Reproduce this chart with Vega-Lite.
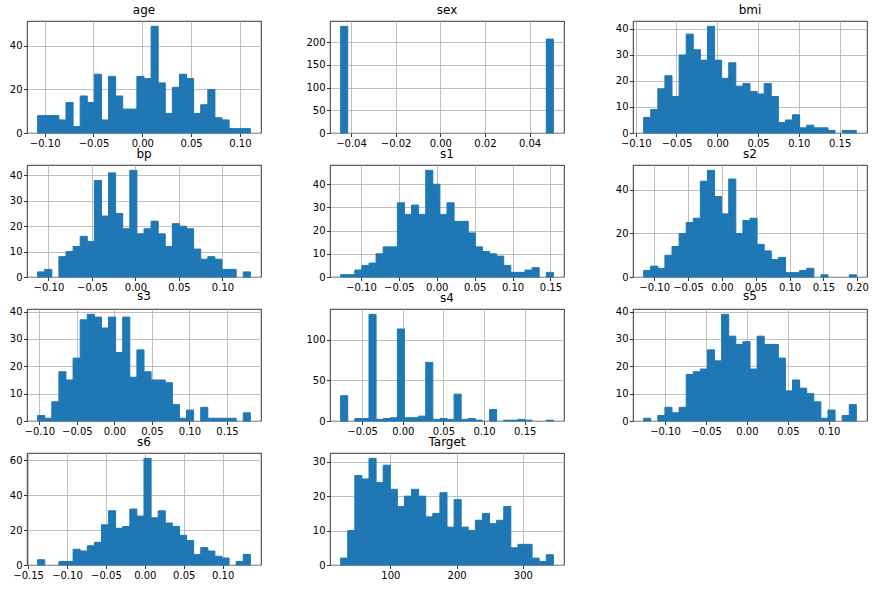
{
"$schema": "https://vega.github.io/schema/vega-lite/v6.json",
"background": "white",
"padding": {"left": 8, "top": 3, "right": 5, "bottom": 5},
"columns": 3,
"spacing": {"row": 32, "column": 69},
"bounds": "flush",
"config": {
  "view": {"stroke": "#000000", "strokeWidth": 0.8},
  "font": "DejaVu Sans",
  "axis": {"domain": false, "grid": true, "gridColor": "#b0b0b0", "gridWidth": 0.8, "gridOpacity": 1, "ticks": true, "tickSize": 3.5, "tickWidth": 0.8, "tickColor": "#000000", "labelFont": "DejaVu Sans", "labelFontSize": 10, "labelColor": "#000000", "labelPadding": 1.5, "labelOverlap": false, "labelFlush": false, "labelBound": false, "title": null, "zindex": 1},
  "title": {"font": "DejaVu Sans", "fontSize": 12, "fontWeight": "normal", "color": "#000000", "anchor": "middle", "offset": 4, "baseline": "alphabetic"},
  "bar": {"color": "#1f77b4", "fill": "#1f77b4", "fillOpacity": 1, "stroke": "#1f77b4", "strokeWidth": 1, "strokeOpacity": 1, "opacity": 1}
},
"datasets": {
  "age": [
    {"x0":-0.10723,"x1":-0.09996,"n":8},{"x0":-0.09996,"x1":-0.09270,"n":8},{"x0":-0.09270,"x1":-0.08543,"n":8},{"x0":-0.08543,"x1":-0.07817,"n":6},{"x0":-0.07817,"x1":-0.07090,"n":14},{"x0":-0.07090,"x1":-0.06364,"n":3},{"x0":-0.06364,"x1":-0.05637,"n":17},{"x0":-0.05637,"x1":-0.04911,"n":14},{"x0":-0.04911,"x1":-0.04184,"n":27},{"x0":-0.04184,"x1":-0.03458,"n":6},{"x0":-0.03458,"x1":-0.02731,"n":26},{"x0":-0.02731,"x1":-0.02005,"n":17},{"x0":-0.02005,"x1":-0.01278,"n":11},{"x0":-0.01278,"x1":-0.00552,"n":11},{"x0":-0.00552,"x1":0.00175,"n":26},{"x0":0.00175,"x1":0.00902,"n":25},{"x0":0.00902,"x1":0.01628,"n":49},{"x0":0.01628,"x1":0.02355,"n":23},{"x0":0.02355,"x1":0.03081,"n":9},{"x0":0.03081,"x1":0.03808,"n":21},{"x0":0.03808,"x1":0.04534,"n":27},{"x0":0.04534,"x1":0.05261,"n":25},{"x0":0.05261,"x1":0.05987,"n":9},{"x0":0.05987,"x1":0.06714,"n":13},{"x0":0.06714,"x1":0.07440,"n":20},{"x0":0.07440,"x1":0.08167,"n":7},{"x0":0.08167,"x1":0.08893,"n":6},{"x0":0.08893,"x1":0.09620,"n":2},{"x0":0.09620,"x1":0.10346,"n":2},{"x0":0.10346,"x1":0.11073,"n":2}
  ],
  "sex": [
    {"x0":-0.04464,"x1":-0.04147,"n":235},{"x0":0.04750,"x1":0.05068,"n":207}
  ],
  "bmi": [
    {"x0":-0.09028,"x1":-0.08158,"n":6},{"x0":-0.08158,"x1":-0.07289,"n":9},{"x0":-0.07289,"x1":-0.06419,"n":17},{"x0":-0.06419,"x1":-0.05550,"n":22},{"x0":-0.05550,"x1":-0.04680,"n":14},{"x0":-0.04680,"x1":-0.03811,"n":30},{"x0":-0.03811,"x1":-0.02941,"n":38},{"x0":-0.02941,"x1":-0.02072,"n":32},{"x0":-0.02072,"x1":-0.01203,"n":28},{"x0":-0.01203,"x1":-0.00333,"n":41},{"x0":-0.00333,"x1":0.00536,"n":28},{"x0":0.00536,"x1":0.01406,"n":21},{"x0":0.01406,"x1":0.02275,"n":27},{"x0":0.02275,"x1":0.03145,"n":18},{"x0":0.03145,"x1":0.04014,"n":19},{"x0":0.04014,"x1":0.04883,"n":16},{"x0":0.04883,"x1":0.05753,"n":15},{"x0":0.05753,"x1":0.06622,"n":19},{"x0":0.06622,"x1":0.07492,"n":14},{"x0":0.07492,"x1":0.08361,"n":4},{"x0":0.08361,"x1":0.09231,"n":5},{"x0":0.09231,"x1":0.10100,"n":7},{"x0":0.10100,"x1":0.10969,"n":2},{"x0":0.10969,"x1":0.11839,"n":3},{"x0":0.11839,"x1":0.12708,"n":2},{"x0":0.12708,"x1":0.13578,"n":2},{"x0":0.13578,"x1":0.14447,"n":1},{"x0":0.14447,"x1":0.15317,"n":0},{"x0":0.15317,"x1":0.16186,"n":1},{"x0":0.16186,"x1":0.17055,"n":1}
  ],
  "bp": [
    {"x0":-0.11240,"x1":-0.10425,"n":2},{"x0":-0.10425,"x1":-0.09610,"n":3},{"x0":-0.09610,"x1":-0.08795,"n":0},{"x0":-0.08795,"x1":-0.07981,"n":8},{"x0":-0.07981,"x1":-0.07166,"n":10},{"x0":-0.07166,"x1":-0.06351,"n":12},{"x0":-0.06351,"x1":-0.05536,"n":16},{"x0":-0.05536,"x1":-0.04721,"n":14},{"x0":-0.04721,"x1":-0.03907,"n":38},{"x0":-0.03907,"x1":-0.03092,"n":24},{"x0":-0.03092,"x1":-0.02277,"n":41},{"x0":-0.02277,"x1":-0.01462,"n":25},{"x0":-0.01462,"x1":-0.00647,"n":19},{"x0":-0.00647,"x1":0.00167,"n":42},{"x0":0.00167,"x1":0.00982,"n":17},{"x0":0.00982,"x1":0.01797,"n":19},{"x0":0.01797,"x1":0.02612,"n":22},{"x0":0.02612,"x1":0.03427,"n":17},{"x0":0.03427,"x1":0.04241,"n":12},{"x0":0.04241,"x1":0.05056,"n":21},{"x0":0.05056,"x1":0.05871,"n":20},{"x0":0.05871,"x1":0.06686,"n":19},{"x0":0.06686,"x1":0.07501,"n":11},{"x0":0.07501,"x1":0.08316,"n":7},{"x0":0.08316,"x1":0.09130,"n":8},{"x0":0.09130,"x1":0.09945,"n":7},{"x0":0.09945,"x1":0.10760,"n":3},{"x0":0.10760,"x1":0.11575,"n":3},{"x0":0.11575,"x1":0.12390,"n":0},{"x0":0.12390,"x1":0.13204,"n":2}
  ],
  "s1": [
    {"x0":-0.12678,"x1":-0.11742,"n":1},{"x0":-0.11742,"x1":-0.10807,"n":1},{"x0":-0.10807,"x1":-0.09871,"n":3},{"x0":-0.09871,"x1":-0.08936,"n":5},{"x0":-0.08936,"x1":-0.08000,"n":6},{"x0":-0.08000,"x1":-0.07064,"n":10},{"x0":-0.07064,"x1":-0.06129,"n":13},{"x0":-0.06129,"x1":-0.05193,"n":13},{"x0":-0.05193,"x1":-0.04257,"n":32},{"x0":-0.04257,"x1":-0.03322,"n":27},{"x0":-0.03322,"x1":-0.02386,"n":31},{"x0":-0.02386,"x1":-0.01450,"n":27},{"x0":-0.01450,"x1":-0.00515,"n":46},{"x0":-0.00515,"x1":0.00421,"n":40},{"x0":0.00421,"x1":0.01357,"n":27},{"x0":0.01357,"x1":0.02292,"n":32},{"x0":0.02292,"x1":0.03228,"n":24},{"x0":0.03228,"x1":0.04164,"n":24},{"x0":0.04164,"x1":0.05099,"n":19},{"x0":0.05099,"x1":0.06035,"n":13},{"x0":0.06035,"x1":0.06971,"n":11},{"x0":0.06971,"x1":0.07906,"n":10},{"x0":0.07906,"x1":0.08842,"n":9},{"x0":0.08842,"x1":0.09778,"n":5},{"x0":0.09778,"x1":0.10713,"n":2},{"x0":0.10713,"x1":0.11649,"n":2},{"x0":0.11649,"x1":0.12584,"n":3},{"x0":0.12584,"x1":0.13520,"n":4},{"x0":0.13520,"x1":0.14456,"n":0},{"x0":0.14456,"x1":0.15391,"n":2}
  ],
  "s2": [
    {"x0":-0.11561,"x1":-0.10513,"n":3},{"x0":-0.10513,"x1":-0.09465,"n":5},{"x0":-0.09465,"x1":-0.08417,"n":4},{"x0":-0.08417,"x1":-0.07369,"n":10},{"x0":-0.07369,"x1":-0.06321,"n":14},{"x0":-0.06321,"x1":-0.05273,"n":20},{"x0":-0.05273,"x1":-0.04225,"n":25},{"x0":-0.04225,"x1":-0.03177,"n":27},{"x0":-0.03177,"x1":-0.02129,"n":44},{"x0":-0.02129,"x1":-0.01081,"n":49},{"x0":-0.01081,"x1":-0.00033,"n":37},{"x0":-0.00033,"x1":0.01015,"n":29},{"x0":0.01015,"x1":0.02063,"n":45},{"x0":0.02063,"x1":0.03111,"n":20},{"x0":0.03111,"x1":0.04159,"n":26},{"x0":0.04159,"x1":0.05207,"n":27},{"x0":0.05207,"x1":0.06255,"n":15},{"x0":0.06255,"x1":0.07303,"n":12},{"x0":0.07303,"x1":0.08351,"n":8},{"x0":0.08351,"x1":0.09399,"n":9},{"x0":0.09399,"x1":0.10447,"n":2},{"x0":0.10447,"x1":0.11495,"n":2},{"x0":0.11495,"x1":0.12543,"n":3},{"x0":0.12543,"x1":0.13591,"n":4},{"x0":0.13591,"x1":0.14639,"n":0},{"x0":0.14639,"x1":0.15687,"n":1},{"x0":0.15687,"x1":0.16735,"n":0},{"x0":0.16735,"x1":0.17783,"n":0},{"x0":0.17783,"x1":0.18831,"n":0},{"x0":0.18831,"x1":0.19879,"n":1}
  ],
  "s3": [
    {"x0":-0.10231,"x1":-0.09286,"n":2},{"x0":-0.09286,"x1":-0.08341,"n":1},{"x0":-0.08341,"x1":-0.07396,"n":7},{"x0":-0.07396,"x1":-0.06451,"n":18},{"x0":-0.06451,"x1":-0.05506,"n":15},{"x0":-0.05506,"x1":-0.04561,"n":23},{"x0":-0.04561,"x1":-0.03616,"n":37},{"x0":-0.03616,"x1":-0.02671,"n":39},{"x0":-0.02671,"x1":-0.01726,"n":38},{"x0":-0.01726,"x1":-0.00781,"n":34},{"x0":-0.00781,"x1":0.00164,"n":38},{"x0":0.00164,"x1":0.01109,"n":25},{"x0":0.01109,"x1":0.02054,"n":38},{"x0":0.02054,"x1":0.02999,"n":16},{"x0":0.02999,"x1":0.03944,"n":26},{"x0":0.03944,"x1":0.04889,"n":18},{"x0":0.04889,"x1":0.05833,"n":15},{"x0":0.05833,"x1":0.06778,"n":15},{"x0":0.06778,"x1":0.07723,"n":14},{"x0":0.07723,"x1":0.08668,"n":6},{"x0":0.08668,"x1":0.09613,"n":1},{"x0":0.09613,"x1":0.10558,"n":4},{"x0":0.10558,"x1":0.11503,"n":0},{"x0":0.11503,"x1":0.12448,"n":5},{"x0":0.12448,"x1":0.13393,"n":1},{"x0":0.13393,"x1":0.14338,"n":1},{"x0":0.14338,"x1":0.15283,"n":1},{"x0":0.15283,"x1":0.16228,"n":1},{"x0":0.16228,"x1":0.17173,"n":0},{"x0":0.17173,"x1":0.18118,"n":3}
  ],
  "s4": [
    {"x0":-0.07640,"x1":-0.06767,"n":31},{"x0":-0.06767,"x1":-0.05895,"n":0},{"x0":-0.05895,"x1":-0.05023,"n":3},{"x0":-0.05023,"x1":-0.04151,"n":3},{"x0":-0.04151,"x1":-0.03279,"n":131},{"x0":-0.03279,"x1":-0.02407,"n":2},{"x0":-0.02407,"x1":-0.01535,"n":3},{"x0":-0.01535,"x1":-0.00663,"n":4},{"x0":-0.00663,"x1":0.00209,"n":113},{"x0":0.00209,"x1":0.01081,"n":4},{"x0":0.01081,"x1":0.01954,"n":4},{"x0":0.01954,"x1":0.02826,"n":6},{"x0":0.02826,"x1":0.03698,"n":72},{"x0":0.03698,"x1":0.04570,"n":2},{"x0":0.04570,"x1":0.05442,"n":3},{"x0":0.05442,"x1":0.06314,"n":2},{"x0":0.06314,"x1":0.07186,"n":33},{"x0":0.07186,"x1":0.08058,"n":2},{"x0":0.08058,"x1":0.08930,"n":3},{"x0":0.08930,"x1":0.09802,"n":1},{"x0":0.09802,"x1":0.10675,"n":0},{"x0":0.10675,"x1":0.11547,"n":14},{"x0":0.11547,"x1":0.12419,"n":0},{"x0":0.12419,"x1":0.13291,"n":1},{"x0":0.13291,"x1":0.14163,"n":1},{"x0":0.14163,"x1":0.15035,"n":2},{"x0":0.15035,"x1":0.15907,"n":1},{"x0":0.15907,"x1":0.16779,"n":0},{"x0":0.16779,"x1":0.17651,"n":0},{"x0":0.17651,"x1":0.18523,"n":1}
  ],
  "s5": [
    {"x0":-0.12610,"x1":-0.11744,"n":1},{"x0":-0.11744,"x1":-0.10878,"n":0},{"x0":-0.10878,"x1":-0.10013,"n":2},{"x0":-0.10013,"x1":-0.09147,"n":5},{"x0":-0.09147,"x1":-0.08281,"n":3},{"x0":-0.08281,"x1":-0.07416,"n":5},{"x0":-0.07416,"x1":-0.06550,"n":17},{"x0":-0.06550,"x1":-0.05685,"n":18},{"x0":-0.05685,"x1":-0.04819,"n":19},{"x0":-0.04819,"x1":-0.03953,"n":26},{"x0":-0.03953,"x1":-0.03088,"n":22},{"x0":-0.03088,"x1":-0.02222,"n":39},{"x0":-0.02222,"x1":-0.01356,"n":31},{"x0":-0.01356,"x1":-0.00491,"n":28},{"x0":-0.00491,"x1":0.00375,"n":29},{"x0":0.00375,"x1":0.01241,"n":19},{"x0":0.01241,"x1":0.02106,"n":31},{"x0":0.02106,"x1":0.02972,"n":28},{"x0":0.02972,"x1":0.03838,"n":28},{"x0":0.03838,"x1":0.04703,"n":23},{"x0":0.04703,"x1":0.05569,"n":11},{"x0":0.05569,"x1":0.06435,"n":15},{"x0":0.06435,"x1":0.07300,"n":12},{"x0":0.07300,"x1":0.08166,"n":10},{"x0":0.08166,"x1":0.09031,"n":7},{"x0":0.09031,"x1":0.09897,"n":1},{"x0":0.09897,"x1":0.10763,"n":4},{"x0":0.10763,"x1":0.11628,"n":0},{"x0":0.11628,"x1":0.12494,"n":2},{"x0":0.12494,"x1":0.13360,"n":6}
  ],
  "s6": [
    {"x0":-0.13777,"x1":-0.12865,"n":3},{"x0":-0.12865,"x1":-0.11954,"n":0},{"x0":-0.11954,"x1":-0.11043,"n":0},{"x0":-0.11043,"x1":-0.10132,"n":2},{"x0":-0.10132,"x1":-0.09220,"n":2},{"x0":-0.09220,"x1":-0.08309,"n":9},{"x0":-0.08309,"x1":-0.07398,"n":8},{"x0":-0.07398,"x1":-0.06487,"n":11},{"x0":-0.06487,"x1":-0.05575,"n":13},{"x0":-0.05575,"x1":-0.04664,"n":23},{"x0":-0.04664,"x1":-0.03753,"n":31},{"x0":-0.03753,"x1":-0.02842,"n":21},{"x0":-0.02842,"x1":-0.01930,"n":22},{"x0":-0.01930,"x1":-0.01019,"n":32},{"x0":-0.01019,"x1":-0.00108,"n":28},{"x0":-0.00108,"x1":0.00804,"n":61},{"x0":0.00804,"x1":0.01715,"n":27},{"x0":0.01715,"x1":0.02626,"n":31},{"x0":0.02626,"x1":0.03537,"n":24},{"x0":0.03537,"x1":0.04449,"n":22},{"x0":0.04449,"x1":0.05360,"n":17},{"x0":0.05360,"x1":0.06271,"n":14},{"x0":0.06271,"x1":0.07182,"n":6},{"x0":0.07182,"x1":0.08094,"n":10},{"x0":0.08094,"x1":0.09005,"n":8},{"x0":0.09005,"x1":0.09916,"n":5},{"x0":0.09916,"x1":0.10827,"n":4},{"x0":0.10827,"x1":0.11739,"n":0},{"x0":0.11739,"x1":0.12650,"n":2},{"x0":0.12650,"x1":0.13561,"n":6}
  ],
  "Target": [
    {"x0":25,"x1":35.7,"n":2},{"x0":35.7,"x1":46.4,"n":10},{"x0":46.4,"x1":57.1,"n":26},{"x0":57.1,"x1":67.8,"n":25},{"x0":67.8,"x1":78.5,"n":31},{"x0":78.5,"x1":89.2,"n":24},{"x0":89.2,"x1":99.9,"n":29},{"x0":99.9,"x1":110.6,"n":22},{"x0":110.6,"x1":121.3,"n":17},{"x0":121.3,"x1":132,"n":20},{"x0":132,"x1":142.7,"n":22},{"x0":142.7,"x1":153.4,"n":20},{"x0":153.4,"x1":164.1,"n":14},{"x0":164.1,"x1":174.8,"n":15},{"x0":174.8,"x1":185.5,"n":21},{"x0":185.5,"x1":196.2,"n":11},{"x0":196.2,"x1":206.9,"n":19},{"x0":206.9,"x1":217.6,"n":11},{"x0":217.6,"x1":228.3,"n":10},{"x0":228.3,"x1":239,"n":13},{"x0":239,"x1":249.7,"n":15},{"x0":249.7,"x1":260.4,"n":12},{"x0":260.4,"x1":271.1,"n":13},{"x0":271.1,"x1":281.8,"n":17},{"x0":281.8,"x1":292.5,"n":5},{"x0":292.5,"x1":303.2,"n":6},{"x0":303.2,"x1":313.9,"n":6},{"x0":313.9,"x1":324.6,"n":2},{"x0":324.6,"x1":335.3,"n":1},{"x0":335.3,"x1":346,"n":3}
  ]
},
"concat": [
  {"title": "age", "width": 234, "height": 112, "data": {"name": "age"}, "transform": [{"filter": "datum.n > 0"}], "mark": "bar",
   "encoding": {"x": {"field": "x0", "type": "quantitative", "scale": {"domain": [-0.118124, 0.121625], "nice": false, "zero": false}, "axis": {"values": [-0.1, -0.05, 0, 0.05, 0.1], "format": ".2f"}},
                "x2": {"field": "x1"},
                "y": {"field": "n", "type": "quantitative", "scale": {"domain": [0, 51.45], "nice": false}, "axis": {"values": [0, 20, 40], "format": "d"}},
                "y2": {"datum": 0}}},
  {"title": "sex", "width": 234, "height": 112, "data": {"name": "sex"}, "transform": [{"filter": "datum.n > 0"}], "mark": "bar",
   "encoding": {"x": {"field": "x0", "type": "quantitative", "scale": {"domain": [-0.049408, 0.055446], "nice": false, "zero": false}, "axis": {"values": [-0.04, -0.02, 0, 0.02, 0.04], "format": ".2f"}},
                "x2": {"field": "x1"},
                "y": {"field": "n", "type": "quantitative", "scale": {"domain": [0, 246.75], "nice": false}, "axis": {"values": [0, 50, 100, 150, 200], "format": "d"}},
                "y2": {"datum": 0}}},
  {"title": "bmi", "width": 234, "height": 112, "data": {"name": "bmi"}, "transform": [{"filter": "datum.n > 0"}], "mark": "bar",
   "encoding": {"x": {"field": "x0", "type": "quantitative", "scale": {"domain": [-0.103317, 0.183596], "nice": false, "zero": false}, "axis": {"values": [-0.1, -0.05, 0, 0.05, 0.1, 0.15], "format": ".2f"}},
                "x2": {"field": "x1"},
                "y": {"field": "n", "type": "quantitative", "scale": {"domain": [0, 43.05], "nice": false}, "axis": {"values": [0, 10, 20, 30, 40], "format": "d"}},
                "y2": {"datum": 0}}},
  {"title": "bp", "width": 234, "height": 112, "data": {"name": "bp"}, "transform": [{"filter": "datum.n > 0"}], "mark": "bar",
   "encoding": {"x": {"field": "x0", "type": "quantitative", "scale": {"domain": [-0.124621, 0.144266], "nice": false, "zero": false}, "axis": {"values": [-0.1, -0.05, 0, 0.05, 0.1], "format": ".2f"}},
                "x2": {"field": "x1"},
                "y": {"field": "n", "type": "quantitative", "scale": {"domain": [0, 44.1], "nice": false}, "axis": {"values": [0, 10, 20, 30, 40], "format": "d"}},
                "y2": {"datum": 0}}},
  {"title": "s1", "width": 234, "height": 112, "data": {"name": "s1"}, "transform": [{"filter": "datum.n > 0"}], "mark": "bar",
   "encoding": {"x": {"field": "x0", "type": "quantitative", "scale": {"domain": [-0.140816, 0.167949], "nice": false, "zero": false}, "axis": {"values": [-0.1, -0.05, 0, 0.05, 0.1, 0.15], "format": ".2f"}},
                "x2": {"field": "x1"},
                "y": {"field": "n", "type": "quantitative", "scale": {"domain": [0, 48.3], "nice": false}, "axis": {"values": [0, 10, 20, 30, 40], "format": "d"}},
                "y2": {"datum": 0}}},
  {"title": "s2", "width": 234, "height": 112, "data": {"name": "s2"}, "transform": [{"filter": "datum.n > 0"}], "mark": "bar",
   "encoding": {"x": {"field": "x0", "type": "quantitative", "scale": {"domain": [-0.131333, 0.214508], "nice": false, "zero": false}, "axis": {"values": [-0.1, -0.05, 0, 0.05, 0.1, 0.15, 0.2], "format": ".2f"}},
                "x2": {"field": "x1"},
                "y": {"field": "n", "type": "quantitative", "scale": {"domain": [0, 51.45], "nice": false}, "axis": {"values": [0, 20, 40], "format": "d"}},
                "y2": {"datum": 0}}},
  {"title": "s3", "width": 234, "height": 112, "data": {"name": "s3"}, "transform": [{"filter": "datum.n > 0"}], "mark": "bar",
   "encoding": {"x": {"field": "x0", "type": "quantitative", "scale": {"domain": [-0.116481, 0.195353], "nice": false, "zero": false}, "axis": {"values": [-0.1, -0.05, 0, 0.05, 0.1, 0.15], "format": ".2f"}},
                "x2": {"field": "x1"},
                "y": {"field": "n", "type": "quantitative", "scale": {"domain": [0, 40.95], "nice": false}, "axis": {"values": [0, 10, 20, 30, 40], "format": "d"}},
                "y2": {"datum": 0}}},
  {"title": "s4", "width": 234, "height": 112, "data": {"name": "s4"}, "transform": [{"filter": "datum.n > 0"}], "mark": "bar",
   "encoding": {"x": {"field": "x0", "type": "quantitative", "scale": {"domain": [-0.089477, 0.198316], "nice": false, "zero": false}, "axis": {"values": [-0.05, 0, 0.05, 0.1, 0.15], "format": ".2f"}},
                "x2": {"field": "x1"},
                "y": {"field": "n", "type": "quantitative", "scale": {"domain": [0, 137.55], "nice": false}, "axis": {"values": [0, 50, 100], "format": "d"}},
                "y2": {"datum": 0}}},
  {"title": "s5", "width": 234, "height": 112, "data": {"name": "s5"}, "transform": [{"filter": "datum.n > 0"}], "mark": "bar",
   "encoding": {"x": {"field": "x0", "type": "quantitative", "scale": {"domain": [-0.139082, 0.146582], "nice": false, "zero": false}, "axis": {"values": [-0.1, -0.05, 0, 0.05, 0.1], "format": ".2f"}},
                "x2": {"field": "x1"},
                "y": {"field": "n", "type": "quantitative", "scale": {"domain": [0, 40.95], "nice": false}, "axis": {"values": [0, 10, 20, 30, 40], "format": "d"}},
                "y2": {"datum": 0}}},
  {"title": "s6", "width": 234, "height": 112, "data": {"name": "s6"}, "transform": [{"filter": "datum.n > 0"}], "mark": "bar",
   "encoding": {"x": {"field": "x0", "type": "quantitative", "scale": {"domain": [-0.151436, 0.149281], "nice": false, "zero": false}, "axis": {"values": [-0.15, -0.1, -0.05, 0, 0.05, 0.1], "format": ".2f"}},
                "x2": {"field": "x1"},
                "y": {"field": "n", "type": "quantitative", "scale": {"domain": [0, 64.05], "nice": false}, "axis": {"values": [0, 20, 40, 60], "format": "d"}},
                "y2": {"datum": 0}}},
  {"title": "Target", "width": 234, "height": 112, "data": {"name": "Target"}, "transform": [{"filter": "datum.n > 0"}], "mark": "bar",
   "encoding": {"x": {"field": "x0", "type": "quantitative", "scale": {"domain": [8.95, 362.05], "nice": false, "zero": false}, "axis": {"values": [100, 200, 300], "format": "d"}},
                "x2": {"field": "x1"},
                "y": {"field": "n", "type": "quantitative", "scale": {"domain": [0, 32.55], "nice": false}, "axis": {"values": [0, 10, 20, 30], "format": "d"}},
                "y2": {"datum": 0}}}
]
}
